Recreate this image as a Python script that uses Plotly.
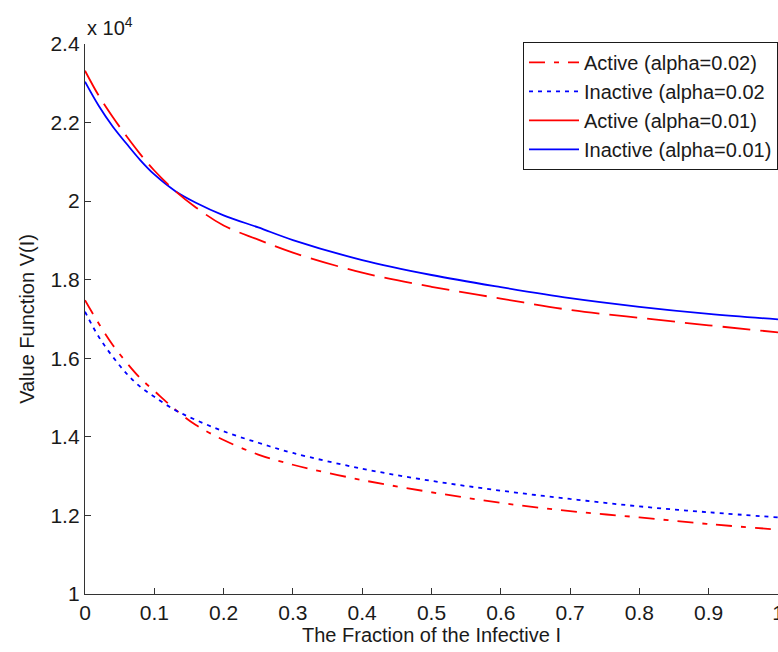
import plotly.graph_objects as go

# Fraction of the infective I
x_vals = [0, 0.02, 0.04, 0.06, 0.08, 0.1, 0.13, 0.16, 0.2, 0.25, 0.3,
          0.4, 0.5, 0.6, 0.7, 0.8, 0.9, 1.0]

# Value function V(I)
active_002 = [17480, 16880, 16340, 15890, 15490, 15170, 14700, 14300, 13920,
              13550, 13290, 12900, 12590, 12320, 12110, 11950, 11780, 11640]
inactive_002 = [17185, 16540, 16040, 15610, 15270, 15020, 14680, 14430, 14140,
                13850, 13590, 13190, 12880, 12630, 12420, 12230, 12080, 11950]
active_001 = [23320, 22680, 22140, 21650, 21190, 20780, 20260, 19840, 19380,
              19020, 18690, 18180, 17820, 17520, 17230, 17030, 16840, 16660]
inactive_001 = [23040, 22420, 21900, 21460, 21040, 20680, 20260, 19960, 19640,
                19330, 19010, 18500, 18120, 17810, 17530, 17310, 17130, 16990]

names = ["Active (alpha=0.02)", "Inactive (alpha=0.02",
         "Active (alpha=0.01)", "Inactive (alpha=0.01)"]

x_ticks = [0, 0.1, 0.2, 0.3, 0.4, 0.5, 0.6, 0.7, 0.8, 0.9, 1.0]
x_ticktext = ["0", "0.1", "0.2", "0.3", "0.4", "0.5", "0.6", "0.7", "0.8", "0.9", "1"]
y_ticks = [10000, 12000, 14000, 16000, 18000, 20000, 22000, 24000]
y_ticktext = ["1", "1.2", "1.4", "1.6", "1.8", "2", "2.2", "2.4"]

FONT = "Liberation Sans, Arial, sans-serif"
LW = 1.8

fig = go.Figure()
fig.add_trace(go.Scatter(x=x_vals, y=active_002, name=names[0], mode="lines",
                         line=dict(color="#ff0000", width=LW, dash="16px,9px,5px,9px", shape="spline")))
fig.add_trace(go.Scatter(x=x_vals, y=inactive_002, name=names[1], mode="lines",
                         line=dict(color="#0000ff", width=LW, dash="4px,5px", shape="spline")))
# legend entry for Active (alpha=0.01) (shown solid in the legend)
fig.add_trace(go.Scatter(x=[None], y=[None], name=names[2], mode="lines",
                         line=dict(color="#ff0000", width=LW)))
fig.add_trace(go.Scatter(x=x_vals, y=inactive_001, name=names[3], mode="lines",
                         line=dict(color="#0000ff", width=LW, shape="spline")))
fig.add_trace(go.Scatter(x=x_vals, y=active_001, name=names[2], mode="lines",
                         showlegend=False,
                         line=dict(color="#ff0000", width=LW, dash="28px,10px", shape="spline")))

fig.update_layout(
    width=778, height=652,
    margin=dict(l=85, r=0, t=44, b=58, autoexpand=False),
    paper_bgcolor="white", plot_bgcolor="white",
    font=dict(family=FONT, size=20, color="#1a1a1a"),
    showlegend=True,
    legend=dict(x=1, xanchor="right", y=1.004, yanchor="top",
                bgcolor="white", bordercolor="#1a1a1a", borderwidth=1,
                font=dict(size=20, family=FONT), tracegroupgap=0,
                itemwidth=50),
    xaxis=dict(range=[0, 1], tickvals=x_ticks, ticktext=x_ticktext,
               showgrid=False, zeroline=False, showline=True, automargin=False,
               linecolor="#333333", linewidth=1.3, ticks="inside", ticklen=6,
               tickcolor="#333333", tickwidth=1.3, ticklabeloverflow="allow",
               tickfont=dict(size=21),
               title=dict(text="The Fraction of the Infective I", standoff=2,
                          font=dict(size=20))),
    yaxis=dict(range=[10000, 24000], tickvals=y_ticks, ticktext=y_ticktext,
               showgrid=False, zeroline=False, showline=True, automargin=False,
               linecolor="#333333", linewidth=1.3, ticks="inside", ticklen=6,
               tickcolor="#333333", tickwidth=1.3,
               tickfont=dict(size=21),
               title=dict(text="Value Function V(I)", standoff=10,
                          font=dict(size=20))),
)

fig.add_annotation(text="x 10<sup>4</sup>", xref="paper", yref="paper",
                   x=0, y=1, xanchor="left", yanchor="bottom", yshift=3,
                   showarrow=False, font=dict(size=20, family=FONT))

fig.write_html("out.html", config={"displayModeBar": False},
               post_script="document.body.style.margin='0';document.body.style.padding='0';")
